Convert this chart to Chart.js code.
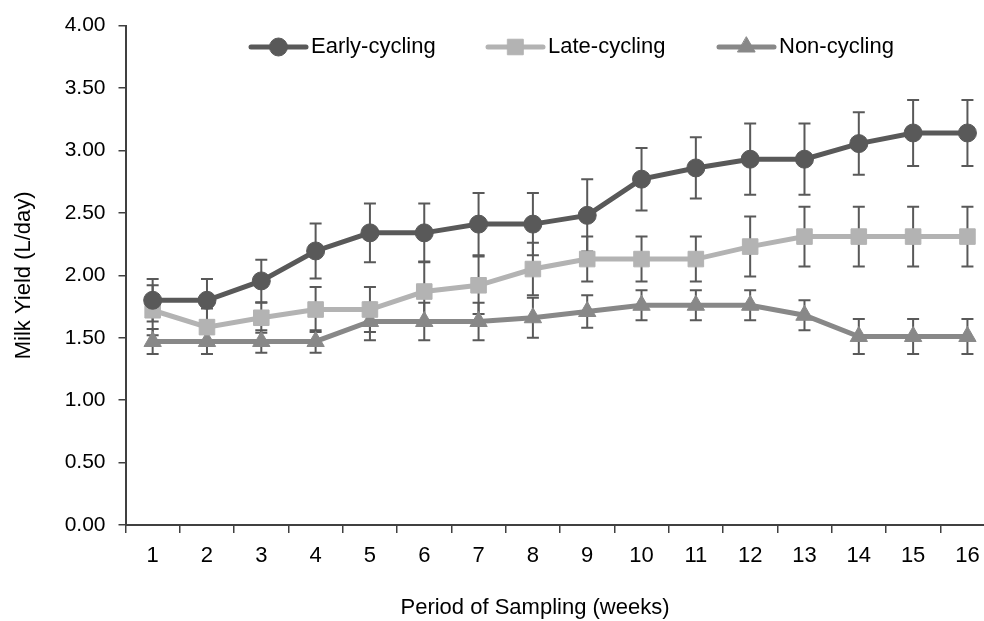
<!DOCTYPE html>
<html lang="en">
<head>
<meta charset="UTF-8">
<title>Milk Yield by Cycling Group</title>
<script src="https://cdn.jsdelivr.net/npm/chart.js"></script>
<style>
  body { margin: 0; overflow: hidden; background: #fff; }
  canvas { display: block; }
</style>
</head>
<body>
<canvas id="milkChart" width="1070" height="621"></canvas>
<script>
const weeks = ['1', '2', '3', '4', '5', '6', '7', '8', '9', '10', '11', '12', '13', '14', '15', '16'];

const earlyYield = [1.80, 1.80, 1.955, 2.195, 2.34, 2.34, 2.41, 2.41, 2.48, 2.77, 2.86, 2.93, 2.93, 3.055, 3.14, 3.14];
const earlyErr   = [0.17, 0.17, 0.17, 0.22, 0.235, 0.235, 0.25, 0.25, 0.29, 0.25, 0.245, 0.285, 0.285, 0.25, 0.265, 0.265];

const lateYield = [1.72, 1.585, 1.66, 1.726, 1.726, 1.87, 1.92, 2.05, 2.13, 2.13, 2.13, 2.23, 2.31, 2.31, 2.31, 2.31];
const lateErr   = [0.20, 0.15, 0.12, 0.18, 0.18, 0.24, 0.23, 0.21, 0.18, 0.18, 0.18, 0.24, 0.24, 0.24, 0.24, 0.24];

const nonYield = [1.47, 1.47, 1.47, 1.47, 1.63, 1.63, 1.63, 1.66, 1.71, 1.76, 1.76, 1.76, 1.68, 1.51, 1.51, 1.51];
const nonErr   = [0.10, 0.10, 0.09, 0.09, 0.15, 0.15, 0.15, 0.16, 0.13, 0.12, 0.12, 0.12, 0.12, 0.14, 0.14, 0.14];

const errors = [earlyErr, lateErr, nonErr];

const FONT = "'Liberation Sans', Arial, sans-serif";
const AXIS = '#404040';

// error bars, drawn under the lines
const errorBars = {
    id: 'errorBars',
    beforeDatasetsDraw(chart) {
        const ctx = chart.ctx;
        const xs = chart.scales.x, ys = chart.scales.y;
        ctx.save();
        ctx.strokeStyle = '#595959';
        ctx.lineWidth = 2;
        chart.data.datasets.forEach((ds, d) => {
            ds.data.forEach((v, i) => {
                const px = xs.getPixelForValue(i);
                const top = ys.getPixelForValue(v + errors[d][i]);
                const bot = ys.getPixelForValue(v - errors[d][i]);
                ctx.beginPath();
                ctx.moveTo(px, top); ctx.lineTo(px, bot);
                ctx.moveTo(px - 6, top); ctx.lineTo(px + 6, top);
                ctx.moveTo(px - 6, bot); ctx.lineTo(px + 6, bot);
                ctx.stroke();
            });
        });
        ctx.restore();
    }
};

// legend inside the plot, line + marker sample like the original
const legendX = [251, 488, 719];
const lineLegend = {
    id: 'lineLegend',
    afterDraw(chart) {
        const ctx = chart.ctx;
        const y0 = 47;
        chart.data.datasets.forEach((ds, i) => {
            const x0 = legendX[i];
            ctx.save();
            ctx.strokeStyle = ds.borderColor;
            ctx.lineWidth = 5;
            ctx.lineCap = 'round';
            ctx.beginPath();
            ctx.moveTo(x0, y0);
            ctx.lineTo(x0 + 55, y0);
            ctx.stroke();
            ctx.fillStyle = ds.pointBackgroundColor;
            ctx.strokeStyle = ds.pointBorderColor;
            ctx.lineWidth = 1;
            Chart.helpers.drawPoint(ctx, { pointStyle: ds.pointStyle, radius: ds.pointRadius, rotation: 0, borderWidth: 1 }, x0 + 27.5, y0);
            ctx.fillStyle = '#000';
            ctx.font = '22px ' + FONT;
            ctx.textBaseline = 'middle';
            ctx.fillText(ds.label, x0 + 60, y0);
            ctx.restore();
        });
    }
};

function series(label, data, color, style, radius) {
    return {
        label: label,
        data: data,
        yAxisID: 'y',
        borderColor: color,
        backgroundColor: color,
        borderWidth: 5,
        pointStyle: style,
        pointRadius: radius,
        pointBackgroundColor: color,
        pointBorderColor: color,
        pointBorderWidth: 1,
        tension: 0,
        fill: false
    };
}

const ctx = document.getElementById('milkChart').getContext('2d');
new Chart(ctx, {
    type: 'line',
    data: {
        labels: weeks,
        datasets: [
            series('Early-cycling', earlyYield, '#595959', 'circle', 9),
            series('Late-cycling', lateYield, '#b3b3b3', 'rect', 11),
            series('Non-cycling', nonYield, '#888888', 'triangle', 10)
        ]
    },
    options: {
        responsive: false,
        animation: false,
        layout: { padding: { top: 22, right: 0, left: 0, bottom: 0 } },
        plugins: {
            legend: { display: false },
            tooltip: { enabled: false },
            title: {
                display: true,
                position: 'bottom',
                text: 'Period of Sampling (weeks)',
                color: '#000',
                font: { family: FONT, size: 22, weight: 'normal' },
                padding: { top: 0, bottom: 0 }
            }
        },
        scales: {
            x: {
                offset: true,
                grid: { offset: true, drawOnChartArea: false, tickLength: 8, color: AXIS, lineWidth: 1.5 },
                border: { color: AXIS, width: 2 },
                ticks: { color: '#000', font: { family: FONT, size: 22 }, padding: 10, maxRotation: 0, autoSkip: false },
                afterFit: s => { s.height = 69.6; }
            },
            y: {
                min: 0,
                max: 4,
                grid: { drawOnChartArea: false, tickLength: 7, color: AXIS, lineWidth: 1.5 },
                border: { color: AXIS, width: 2 },
                ticks: { stepSize: 0.5, color: '#000', font: { family: FONT, size: 21 }, padding: 13, callback: v => v.toFixed(2) },
                title: {
                    display: true,
                    text: 'Milk Yield (L/day)',
                    color: '#000',
                    font: { family: FONT, size: 22 },
                    padding: { top: 11, bottom: 0 }
                },
                afterFit: s => { s.width = 125.5; }
            },
            // empty right-hand box so the page crops the plot like the original
            pad: {
                position: 'right',
                grid: { display: false },
                border: { display: false },
                ticks: { display: false },
                afterFit: s => { s.width = 75.4; }
            }
        }
    },
    plugins: [errorBars, lineLegend]
});
</script>
</body>
</html>
